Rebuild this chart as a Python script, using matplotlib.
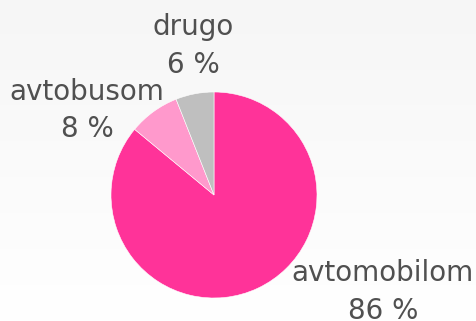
import numpy as np
import matplotlib
matplotlib.use("Agg")
import matplotlib.pyplot as plt

# Share of trips by mode of transport
categories = ["avtomobilom", "avtobusom", "drugo"]
shares = [86, 8, 6]
colors = ["#FF3399", "#FF99CC", "#BFBFBF"]

W, H = 477, 321
fig = plt.figure(figsize=(W / 100, H / 100), dpi=100)

# faint vertical background gradient
bg = fig.add_axes([0, 0, 1, 1], zorder=-10)
grad = np.linspace(0.965, 1.0, 256).reshape(-1, 1)
bg.imshow(np.dstack([grad, grad, grad]), aspect="auto", extent=[0, 1, 0, 1], origin="upper")
bg.set_axis_off()

cx, cy, r = 214, 195, 103
ax = fig.add_axes([(cx - r) / W, (H - cy - r) / H, 2 * r / W, 2 * r / H])

wedges, _ = ax.pie(shares, colors=colors, startangle=90, counterclock=False,
                   radius=1, wedgeprops=dict(edgecolor="white", linewidth=0.4))
ax.set_xlim(-1, 1)
ax.set_ylim(-1, 1)
ax.set_aspect("equal")
ax.set_axis_off()

label_pos = {"avtomobilom": (1.64, -0.94), "avtobusom": (-1.23, 0.82), "drugo": (-0.20, 1.45)}
for name, val in zip(categories, shares):
    x, y = label_pos[name]
    ax.text(x, y, f"{name}\n{val} %", ha="center", va="center", multialignment="center",
            fontsize=20, color="#505050", linespacing=1.45, clip_on=False,
            family="DejaVu Sans")

fig.savefig("out.png", dpi=100)
